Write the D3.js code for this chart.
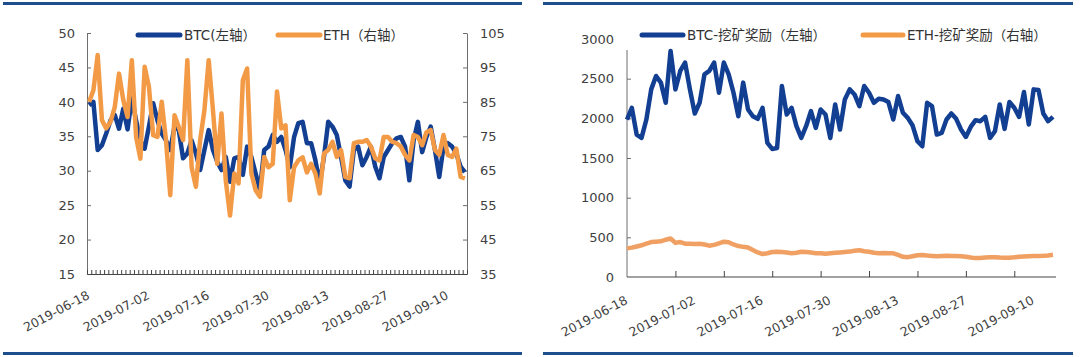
<!DOCTYPE html>
<html><head><meta charset="utf-8">
<script src="https://cdn.jsdelivr.net/npm/d3@7"></script>
<style>
html,body{margin:0;padding:0;background:#fff;}
svg{display:block;}
svg text{font-family:"DejaVu Sans","Noto Sans CJK SC",sans-serif !important;}
.tick text{fill:#404040;}
</style></head>
<body>
<svg id="c" width="1080" height="357"></svg>
<script>
// ---------- data ----------
const startDate = new Date(2019, 5, 18);
const endDate = new Date(2019, 8, 15); // exclusive -> 2019-06-18 .. 2019-09-14
const dates = d3.timeDay.range(startDate, endDate);

// Left chart: price (BTC left axis, ETH right axis)
const btcPrice = [39.5,40.0,33.0,33.7,35.4,37.3,38.1,36.1,39.0,36.0,40.5,37.3,34.4,33.2,36.4,39.8,37.3,35.4,34.4,33.0,
  36.4,35.9,31.8,32.5,34.4,32.5,30.1,33.0,35.9,33.0,31.3,30.1,32.0,28.4,31.8,32.0,29.4,33.5,32.0,29.6,
  27.2,33.0,33.5,35.2,34.2,34.9,33.0,30.5,34.9,36.9,37.1,34.0,34.0,31.5,28.1,32.0,37.1,36.4,35.2,32.0,
  28.6,27.7,33.0,33.5,30.8,32.0,33.5,30.6,28.9,32.0,33.0,34.0,34.7,34.9,33.5,28.6,34.4,37.1,32.7,34.9,
  36.4,33.0,29.1,33.5,34.0,33.5,32.5,30.6,29.8];
const ethPrice = [85,88.4,98.6,79.7,77.3,79.2,83.5,93.2,85.5,80.6,97.1,74.8,68.5,95.2,89.4,75.3,74.8,85,73.9,57.9,
  81.1,77.7,73.9,97.1,66,60.3,73.9,82.6,97.1,82.6,67,81.6,62.2,52,64.2,61.3,91.3,94.7,64.2,59.3,
  57.4,69,66,67,88,77.3,78.2,56.4,66,68,68.9,64.5,67,64.2,58.4,70,71,73.4,69,71,
  63.2,62.8,73,73.4,73.4,73.9,72,68.6,68,74.8,74.8,73.4,73,72,69.6,68,75.4,74.8,72.4,76.2,
  76.8,71,69.6,75.4,69.6,69,71.4,63.2,62.8];

// Right chart: mining reward
const btcMining = [1985,2133,1795,1753,1985,2365,2534,2450,2196,2850,2365,2597,2703,2365,2061,2196,2555,2597,2703,2323,
  2703,2555,2323,2027,2450,2112,2027,1994,2133,1690,1614,1626,2407,2048,2133,1901,1753,1901,2091,1880,
  2112,2048,1753,2175,1859,2238,2365,2301,2154,2407,2323,2196,2247,2238,2205,1985,2281,2070,2006,1909,
  1711,1648,2196,2154,1795,1816,1985,2061,1994,1859,1766,1892,1977,1964,2019,1753,1837,2175,1867,2205,
  2133,2019,2331,1922,2365,2357,2061,1964,2019];
const ethMining = [361,370,385,400,420,440,445,450,470,485,430,440,420,418,415,418,410,395,405,425,
  445,438,410,390,380,372,340,310,290,300,315,318,315,310,300,305,318,315,308,300,
  298,292,300,305,310,315,320,330,338,325,318,305,300,302,300,298,278,255,250,262,
  275,278,270,266,262,265,268,264,266,262,255,245,238,240,245,248,250,245,242,244,
  248,255,258,262,265,266,268,272,280];

const leftTicks = [15,20,25,30,35,40,45,50];
const rightTicks = [35,45,55,65,75,85,95,105];
const miningTicks = [0,500,1000,1500,2000,2500,3000];
const legendLeft = ["BTC(左轴）", "ETH（右轴）"];
const legendRight = ["BTC-挖矿奖励（左轴）", "ETH-挖矿奖励（右轴）"];

// ---------- styles ----------
const BLUE = "#123f92", ORANGE = "#f39a46", RULE = "#1f4e8f", AXIS = "#6e6e6e";
const FONT = '"DejaVu Sans","Noto Sans CJK SC",sans-serif';
const fmt = d3.timeFormat("%Y-%m-%d");
const svg = d3.select("#c");

// frame rules
[[3,522],[543,1073]].forEach(([a,b]) => {
  svg.append("rect").attr("x", a).attr("y", 2).attr("width", b - a).attr("height", 3).attr("fill", RULE);
  svg.append("rect").attr("x", a).attr("y", 352).attr("width", b - a).attr("height", 3).attr("fill", RULE);
});

// ================= LEFT CHART =================
(function(){
  const L = 87, R = 467, T = 33, B = 274;
  const idx = d3.range(dates.length);
  const xb = d3.scaleBand().domain(idx).range([L, R]).padding(0);
  const cx = i => xb(i) + xb.bandwidth() / 2;
  const yL = d3.scaleLinear().domain([15, 50]).range([B, T]);
  const yR = d3.scaleLinear().domain([35, 105]).range([B, T]);
  const g = svg.append("g");

  const axL = g.append("g").attr("transform", `translate(${L},0)`)
    .call(d3.axisLeft(yL).tickValues(leftTicks).tickSize(-4).tickSizeOuter(0).tickPadding(12));
  const axR = g.append("g").attr("transform", `translate(${R},0)`)
    .call(d3.axisRight(yR).tickValues(rightTicks).tickSize(-4).tickSizeOuter(0).tickPadding(13));
  [axL, axR].forEach(a => {
    a.attr("font-family", FONT);
    a.selectAll("path,line").attr("stroke", AXIS);
    a.selectAll("text").attr("font-size", 13);
  });

  // daily ticks at category boundaries
  const xBound = d3.scaleLinear().domain([0, dates.length]).range([L, R]);
  const axB = g.append("g").attr("transform", `translate(0,${B})`)
    .call(d3.axisBottom(xBound).tickValues(d3.range(dates.length + 1)).tickSize(-4).tickSizeOuter(0).tickFormat(""));
  axB.selectAll("path,line").attr("stroke", "#444");

  // date labels every 14 days
  const lab = g.append("g").attr("transform", `translate(0,${B})`).attr("font-family", FONT)
    .call(d3.axisBottom(d3.scalePoint().domain(idx).range([cx(0), cx(idx.length - 1)]))
      .tickValues(idx.filter(i => i % 14 === 0)).tickSize(0).tickFormat(i => fmt(dates[i])));
  lab.attr("font-family", FONT);
  lab.select(".domain").remove();
  lab.selectAll("text").attr("font-size", 12.5).attr("x", 0).attr("y", 0).attr("dy", 0)
    .attr("text-anchor", "end").attr("transform", "translate(1,24) rotate(-28)");

  const lineL = d3.line().x((d, i) => cx(i)).y(d => yL(d));
  const lineR = d3.line().x((d, i) => cx(i)).y(d => yR(d));
  g.append("path").datum(btcPrice).attr("d", lineL).attr("fill", "none")
    .attr("stroke", BLUE).attr("stroke-width", 4.5).attr("stroke-linejoin", "round");
  g.append("path").datum(ethPrice).attr("d", lineR).attr("fill", "none")
    .attr("stroke", ORANGE).attr("stroke-width", 4.5).attr("stroke-linejoin", "round");

  // legend
  const leg = [[138, 180, 184, BLUE, legendLeft[0]], [278, 320, 323, ORANGE, legendLeft[1]]];
  leg.forEach(([a, b, t, c, s]) => {
    g.append("line").attr("x1", a).attr("x2", b).attr("y1", 35).attr("y2", 35)
      .attr("stroke", c).attr("stroke-width", 5).attr("stroke-linecap", "round");
    g.append("text").attr("x", t).attr("y", 40).attr("font-size", 13.5).attr("font-family", FONT)
      .attr("fill", "#333").text(s);
  });
})();

// ================= RIGHT CHART =================
(function(){
  const L = 627, R = 1053, B = 277;
  const x = d3.scaleTime().domain([dates[0], dates[dates.length - 1]]).range([L, R]);
  const y = d3.scaleLinear().domain([0, 3000]).range([B, 39]);
  const g = svg.append("g");

  const axY = g.append("g").attr("transform", `translate(${L},0)`)
    .call(d3.axisLeft(y).tickValues(miningTicks).tickFormat(d3.format("d"))
      .tickSize(-4).tickSizeOuter(0).tickPadding(13));
  axY.attr("font-family", FONT);
  axY.select(".domain").remove();
  axY.selectAll("line").attr("stroke", AXIS);
  axY.selectAll(".tick").filter(d => d === 3000 || d === 0).select("line").remove();
  axY.selectAll("text").attr("font-size", 13);
  g.append("line").attr("x1", L).attr("x2", L).attr("y1", 50).attr("y2", B).attr("stroke", AXIS);

  // x axis: ticks every 10 days, labels every 14 days
  const axX = g.append("g").attr("transform", `translate(0,${B})`)
    .call(d3.axisBottom(x).tickValues(dates.filter((d, i) => i % 10 === 0 && i > 0))
      .tickSize(-6).tickSizeOuter(0).tickFormat(""));
  axX.select(".domain").attr("d", `M${L},0H${R + 3}`);
  axX.selectAll("path,line").attr("stroke", "#444");
  const lab = g.append("g").attr("transform", `translate(0,${B})`)
    .call(d3.axisBottom(x).tickValues(dates.filter((d, i) => i % 14 === 0)).tickSize(0).tickFormat(fmt));
  lab.attr("font-family", FONT);
  lab.select(".domain").remove();
  lab.selectAll("text").attr("font-size", 12.5).attr("x", 0).attr("y", 0).attr("dy", 0)
    .attr("text-anchor", "end").attr("transform", "translate(1,26) rotate(-28)");

  const line = d3.line().x((d, i) => x(dates[i])).y(d => y(d));
  g.append("path").datum(btcMining).attr("d", line).attr("fill", "none")
    .attr("stroke", BLUE).attr("stroke-width", 4.5).attr("stroke-linejoin", "round");
  g.append("path").datum(ethMining).attr("d", line).attr("fill", "none")
    .attr("stroke", "#f0a062").attr("stroke-width", 4.5).attr("stroke-linejoin", "round");

  const leg = [[642, 683, 687, BLUE, legendRight[0]], [863, 903, 907, ORANGE, legendRight[1]]];
  leg.forEach(([a, b, t, c, s]) => {
    g.append("line").attr("x1", a).attr("x2", b).attr("y1", 35).attr("y2", 35)
      .attr("stroke", c).attr("stroke-width", 5).attr("stroke-linecap", "round");
    g.append("text").attr("x", t).attr("y", 40).attr("font-size", 13.5).attr("font-family", FONT)
      .attr("fill", "#333").text(s);
  });
})();
</script>
</body></html>
